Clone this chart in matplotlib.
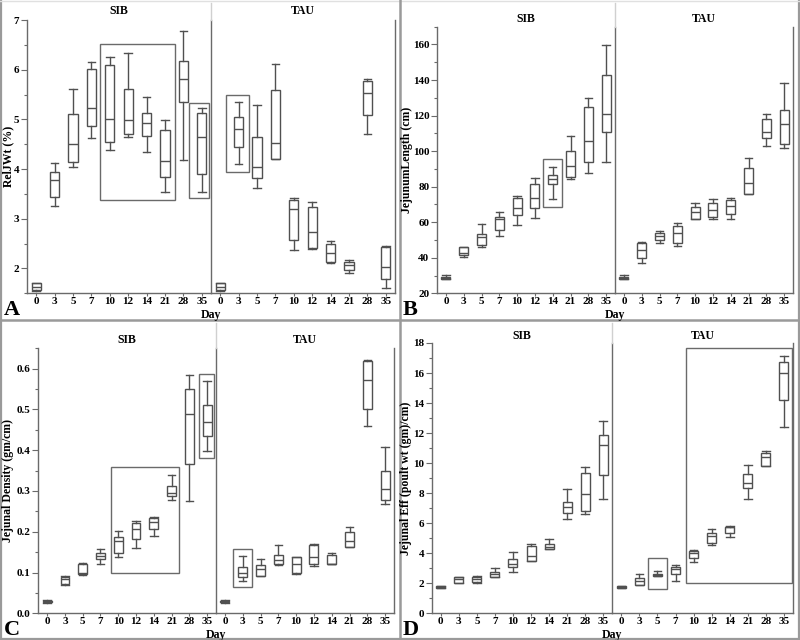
import matplotlib
matplotlib.use('Agg')
import matplotlib.pyplot as plt
from matplotlib.patches import Rectangle
from matplotlib.lines import Line2D
from matplotlib.ticker import MultipleLocator, FormatStrFormatter

plt.rcParams['font.family'] = ['Liberation Serif', 'DejaVu Serif']
plt.rcParams['font.weight'] = 'bold'

days = ['0', '3', '5', '7', '10', '12', '14', '21', '28', '35']
groups = ['SIB', 'TAU']

# each entry: (low whisker, Q1, median, Q3, high whisker)
A_SIB = [(1.55, 1.57, 1.63, 1.70, 1.71), (3.26, 3.44, 3.78, 3.95, 4.13), (4.04, 4.15, 4.50, 5.10, 5.62),
         (4.62, 4.86, 5.23, 6.02, 6.15), (4.38, 4.55, 5.01, 6.10, 6.26), (4.65, 4.70, 4.99, 5.61, 6.34),
         (4.35, 4.66, 4.92, 5.12, 5.45), (3.53, 3.85, 4.16, 4.78, 4.99), (4.18, 5.35, 5.82, 6.18, 6.77),
         (3.53, 3.91, 4.64, 5.12, 5.23)]
A_TAU = [(1.55, 1.57, 1.63, 1.70, 1.71), (4.11, 4.45, 4.81, 5.04, 5.35), (3.62, 3.82, 4.04, 4.64, 5.29),
         (4.21, 4.21, 4.52, 5.59, 6.11), (2.37, 2.58, 3.20, 3.38, 3.42), (2.40, 2.41, 2.73, 3.24, 3.34),
         (2.10, 2.13, 2.31, 2.49, 2.55), (1.91, 1.97, 2.07, 2.13, 2.17), (4.70, 5.08, 5.54, 5.78, 5.82),
         (1.60, 1.78, 2.02, 2.44, 2.45)]
B_SIB = [(27.9, 28.2, 28.8, 29.3, 30.3), (40.5, 41.8, 42.9, 45.9, 46.0), (46.0, 47.1, 51.4, 53.3, 58.8),
         (52.0, 55.8, 61.6, 63.1, 65.9), (58.4, 64.0, 68.2, 73.4, 74.9), (62.3, 68.0, 73.4, 81.5, 84.7),
         (72.9, 81.5, 84.5, 86.4, 90.9), (84.5, 85.3, 91.7, 99.8, 108.3), (87.7, 93.7, 105.5, 124.9, 130.1),
         (94.0, 111.0, 120.7, 142.6, 159.9)]
B_TAU = [(27.9, 28.2, 28.8, 29.3, 30.3), (37.1, 39.9, 44.5, 48.1, 49.0), (48.5, 50.0, 52.0, 54.1, 54.8),
         (46.7, 48.5, 53.8, 57.9, 59.3), (61.6, 61.6, 65.5, 68.4, 70.6), (62.0, 63.1, 66.9, 71.0, 72.8),
         (62.0, 64.6, 69.0, 72.5, 73.8), (76.0, 76.0, 82.2, 90.7, 95.9), (102.9, 107.5, 110.8, 117.8, 121.0),
         (101.5, 103.8, 115.5, 123.4, 138.4)]
C_SIB = [(0.026, 0.027, 0.029, 0.031, 0.032), (0.069, 0.072, 0.083, 0.090, 0.091), (0.095, 0.096, 0.099, 0.120, 0.124),
         (0.120, 0.132, 0.141, 0.149, 0.157), (0.137, 0.149, 0.178, 0.188, 0.202), (0.161, 0.182, 0.206, 0.222, 0.226),
         (0.189, 0.206, 0.223, 0.233, 0.235), (0.278, 0.287, 0.294, 0.312, 0.340), (0.275, 0.365, 0.490, 0.549, 0.584),
         (0.397, 0.436, 0.470, 0.510, 0.569)]
C_TAU = [(0.026, 0.027, 0.029, 0.031, 0.032), (0.080, 0.090, 0.100, 0.114, 0.140), (0.091, 0.091, 0.108, 0.118, 0.132),
         (0.118, 0.120, 0.131, 0.144, 0.167), (0.096, 0.098, 0.121, 0.139, 0.139), (0.116, 0.120, 0.139, 0.167, 0.171),
         (0.121, 0.121, 0.122, 0.143, 0.149), (0.163, 0.163, 0.177, 0.200, 0.211), (0.460, 0.500, 0.573, 0.618, 0.622),
         (0.267, 0.279, 0.306, 0.349, 0.407)]
D_SIB = [(1.66, 1.68, 1.74, 1.82, 1.85), (2.02, 2.04, 2.30, 2.40, 2.44), (2.04, 2.09, 2.27, 2.40, 2.47),
         (2.40, 2.44, 2.62, 2.78, 3.00), (2.73, 3.07, 3.27, 3.64, 4.07), (3.51, 3.51, 3.84, 4.49, 4.60),
         (4.29, 4.29, 4.44, 4.62, 4.93), (6.27, 6.71, 7.11, 7.44, 8.27), (6.62, 6.78, 7.93, 9.31, 9.76),
         (7.60, 9.22, 11.22, 11.87, 12.78)]
D_TAU = [(1.66, 1.68, 1.74, 1.82, 1.85), (1.89, 1.89, 2.18, 2.33, 2.62), (2.47, 2.47, 2.52, 2.62, 2.80),
         (2.18, 2.62, 2.93, 3.11, 3.22), (3.44, 3.67, 4.00, 4.16, 4.22), (4.56, 4.71, 5.16, 5.33, 5.60),
         (5.07, 5.38, 5.76, 5.78, 5.84), (7.62, 8.33, 8.67, 9.29, 9.89), (9.84, 9.84, 10.38, 10.67, 10.84),
         (12.40, 14.22, 16.00, 16.76, 17.11)]

# highlight rectangles: (x from, x to [category index], y from, y to [data units])
A_SIB_rects = [(3.47, 7.54, 3.37, 6.51), (8.32, 9.41, 3.42, 5.32)]
A_TAU_rects = [(0.32, 1.58, 3.95, 5.49)]
B_SIB_rects = [(5.45, 6.52, 68.4, 95.7)]
B_TAU_rects = []
C_SIB_rects = [(3.57, 7.43, 0.098, 0.359), (8.54, 9.38, 0.382, 0.588)]
C_TAU_rects = [(0.47, 1.54, 0.065, 0.157)]
D_SIB_rects = []
D_TAU_rects = [(1.50, 2.55, 1.64, 3.71), (3.58, 9.45, 2.0, 17.67)]

ylabels = ['RelJWt (%)', 'JejunumLength (cm)', 'Jejunal Density (gm/cm)', 'Jejunal Eff (poult wt (gm)/cm)']
letters = ['A', 'B', 'C', 'D']

W, H = 800, 640
fig = plt.figure(figsize=(8, 6.4), dpi=100)
fig.patch.set_facecolor('white')

BOXC = '#505050'
SPC = '#6a6a6a'
RECTC = '#6a6a6a'


def px_axes(x0, y0, x1, y1):
    return fig.add_axes([x0 / W, 1 - y1 / H, (x1 - x0) / W, (y1 - y0) / H])


def fig_line(x0, y0, x1, y1, color, lw):
    fig.add_artist(Line2D([x0 / W, x1 / W], [1 - y0 / H, 1 - y1 / H], transform=fig.transFigure,
                          color=color, lw=lw))


panels = [
    dict(data=(A_SIB, A_TAU), rects=(A_SIB_rects, A_TAU_rects), x=(27, 211, 395), y=(20, 293.3),
         ylim=(1.5, 7.0), major=1, minor=0.5, fmt='%d', ptop=0, title_y=11, ylab_x=8, day_y=315),
    dict(data=(B_SIB, B_TAU), rects=(B_SIB_rects, B_TAU_rects), x=(437, 615, 793), y=(26.7, 293.3),
         ylim=(20, 170), major=20, minor=10, fmt='%d', ptop=0, title_y=19, ylab_x=406.5, day_y=315),
    dict(data=(C_SIB, C_TAU), rects=(C_SIB_rects, C_TAU_rects), x=(38.3, 216, 394), y=(348.3, 613.3),
         ylim=(0, 0.65), major=0.1, minor=0.05, fmt='%.1f', ptop=320, title_y=340, ylab_x=8, day_y=635),
    dict(data=(D_SIB, D_TAU), rects=(D_SIB_rects, D_TAU_rects), x=(431.7, 612.3, 793), y=(343, 613.3),
         ylim=(0, 18), major=2, minor=1, fmt='%d', ptop=320, title_y=336, ylab_x=406, day_y=635),
]

for pi, p in enumerate(panels):
    xs = p['x']
    yt, yb = p['y']
    for gi in range(2):
        ax = px_axes(xs[gi], yt, xs[gi + 1], yb)
        stats = [dict(whislo=s[0], q1=s[1], med=s[2], q3=s[3], whishi=s[4], fliers=[])
                 for s in p['data'][gi]]
        ax.bxp(stats, positions=list(range(len(days))), widths=0.5, capwidths=0.42,
               showfliers=False, patch_artist=True,
               boxprops=dict(facecolor='white', edgecolor=BOXC, lw=1.0),
               medianprops=dict(color=BOXC, lw=1.0),
               whiskerprops=dict(color=BOXC, lw=1.0),
               capprops=dict(color=BOXC, lw=1.0))
        for (xa, xb, ya, yb2) in p['rects'][gi]:
            ax.add_patch(Rectangle((xa, ya), xb - xa, yb2 - ya, fill=False, edgecolor=RECTC, lw=1.0))
        ax.set_xlim(-0.5, 9.5)
        ax.set_ylim(*p['ylim'])
        ax.set_xticks(range(len(days)))
        ax.set_xticklabels(days)
        ax.tick_params(axis='x', length=2, width=0.8, color=SPC, labelsize=8, pad=1)
        ax.set_facecolor('none')
        ax.spines['top'].set_visible(False)
        for sp in ax.spines.values():
            sp.set_color(SPC)
            sp.set_linewidth(1.0)
        if gi == 0:
            ax.spines['right'].set_visible(False)
            ax.yaxis.set_major_locator(MultipleLocator(p['major']))
            ax.yaxis.set_minor_locator(MultipleLocator(p['minor']))
            ax.yaxis.set_major_formatter(FormatStrFormatter(p['fmt']))
            ax.tick_params(axis='y', which='major', length=4, width=0.8, color=SPC, labelsize=8, pad=1.5)
            ax.tick_params(axis='y', which='minor', length=2, width=0.8, color=SPC)
        else:
            ax.tick_params(axis='y', which='both', left=False, labelleft=False)
        cx = (xs[gi] + xs[gi + 1]) / 2
        fig.text(cx / W, 1 - p['title_y'] / H, groups[gi], ha='center', va='center',
                 fontsize=8.5, fontweight='bold')
    # divider continuation in header
    fig_line(xs[1], p['ptop'] + 3, xs[1], yt, '#d0d0d0', 1.0)
    fig.text(p['ylab_x'] / W, 1 - ((yt + yb) / 2) / H, ylabels[pi], rotation=90, ha='center',
             va='center', fontsize=8.5, fontweight='bold')
    fig.text(xs[1] / W, 1 - p['day_y'] / H, 'Day', ha='center', va='center', fontsize=8.5,
             fontweight='bold')
    lx = 4 if pi % 2 == 0 else 403
    fig.text(lx / W, 1 - (p['ptop'] + 315) / H, letters[pi], ha='left', va='baseline',
             fontsize=16, fontweight='bold')

# panel borders
BC = '#9a9a9a'
fig_line(0.8, 0, 0.8, 640, BC, 1.6)
fig_line(799.2, 0, 799.2, 640, BC, 1.6)
fig_line(0, 639.2, 800, 639.2, BC, 1.6)
fig_line(0, 0.8, 800, 0.8, '#e0e0e0', 1.0)
fig_line(399.5, 0, 399.5, 640, BC, 1.8)
fig_line(0, 320, 800, 320, BC, 1.8)

fig.savefig('out.png', dpi=100, facecolor='white')
